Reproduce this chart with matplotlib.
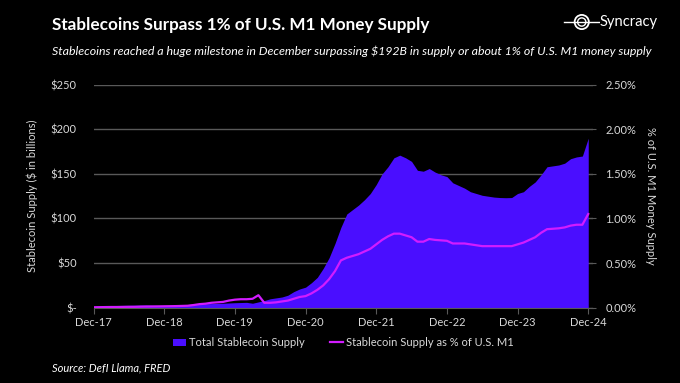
import numpy as np
import matplotlib
matplotlib.use("Agg")
import matplotlib.pyplot as plt
from matplotlib.patches import Patch, Circle
from matplotlib.lines import Line2D

plt.rcParams['font.family'] = ['Lato', 'DejaVu Sans']

# monthly data, Dec-17 .. Dec-24
supply = [1.4, 1.6, 2.2, 2.4, 2.5, 2.6, 2.7, 2.8, 2.9, 3.0, 2.7, 2.5,
          2.4, 2.5, 2.7, 3.2, 3.6, 4.0, 4.3, 4.5, 4.6, 4.8, 5.0, 5.3,
          5.6, 5.8, 6.0, 5.0, 6.5, 8.0, 10.0, 11.0, 12.0, 14.0, 18.0, 21.0,
          23.0, 28.0, 34.0, 44.0, 56.0, 72.0, 90.0, 105.0, 110.0, 115.0, 121.0, 128.0,
          138.0, 150.0, 158.0, 168.0, 171.0, 168.0, 164.0, 154.0, 153.0, 156.0, 152.0, 149.0,
          147.0, 140.0, 137.0, 134.0, 130.0, 128.0, 126.0, 125.0, 124.0, 123.5, 123.3, 123.5,
          128.0, 130.0, 136.0, 141.0, 149.0, 158.0, 159.0, 160.0, 162.0, 167.0, 169.0, 170.0,
          190.0]
pct_m1 = [0.005, 0.006, 0.007, 0.008, 0.008, 0.009, 0.010, 0.010, 0.012, 0.013, 0.014, 0.015,
          0.016, 0.017, 0.018, 0.020, 0.022, 0.030, 0.040, 0.045, 0.055, 0.060, 0.065, 0.080,
          0.090, 0.095, 0.095, 0.100, 0.140, 0.055, 0.055, 0.060, 0.070, 0.080, 0.100, 0.120,
          0.130, 0.160, 0.200, 0.250, 0.320, 0.410, 0.530, 0.560, 0.580, 0.600, 0.630, 0.660,
          0.710, 0.760, 0.800, 0.830, 0.830, 0.810, 0.790, 0.740, 0.740, 0.770, 0.760, 0.755,
          0.750, 0.720, 0.720, 0.720, 0.710, 0.700, 0.690, 0.690, 0.690, 0.690, 0.690, 0.690,
          0.710, 0.730, 0.760, 0.790, 0.840, 0.880, 0.885, 0.890, 0.900, 0.920, 0.930, 0.930,
          1.050]
xlabels = ['Dec-17', 'Dec-18', 'Dec-19', 'Dec-20', 'Dec-21', 'Dec-22', 'Dec-23', 'Dec-24']
months = np.arange(len(supply))

area_col = '#4a0eff'
line_col = '#d21cff'
grid_col = '#595959'
txt_col = '#d9d9d9'

fig = plt.figure(figsize=(6.8, 3.83), dpi=100)
fig.patch.set_facecolor('black')

ax = fig.add_axes([0.1375, 0.1966, 0.7345, 0.5823])
ax.set_facecolor('black')
ax.fill_between(months, supply, 0, color=area_col, lw=0, zorder=2)
ax.set_xlim(0, 84.8)
ax.set_ylim(0, 250)
ax.set_yticks([0, 50, 100, 150, 200, 250])
ax.set_yticklabels(['$-', '$50', '$100', '$150', '$200', '$250'])
ax.set_xticks(np.arange(0, 85, 12))
ax.set_xticklabels(xlabels)
ax.grid(axis='y', color=grid_col, lw=1, zorder=1)
for s in ['top', 'right', 'left']:
    ax.spines[s].set_visible(False)
ax.spines['bottom'].set_color(grid_col)
ax.tick_params(axis='y', length=0, colors=txt_col, labelsize=8, pad=12)
ax.tick_params(axis='x', length=4, color=grid_col, colors=txt_col, labelsize=8, pad=3)
ax.set_ylabel('Stablecoin Supply ($ in billions)', color=txt_col, fontsize=8, labelpad=9)

ax2 = ax.twinx()
ax2.plot(months, pct_m1, color=line_col, lw=1.6, zorder=3)
ax2.set_ylim(0, 2.5)
ax2.set_yticks(np.arange(0, 2.51, 0.5))
ax2.set_yticklabels(['%.2f%%' % v for v in np.arange(0, 2.51, 0.5)])
for s in ['top', 'right', 'left', 'bottom']:
    ax2.spines[s].set_visible(False)
ax2.tick_params(axis='y', length=4, direction='inout', color=grid_col, colors=txt_col, labelsize=8, pad=7)
ax2.set_ylabel('% of U.S. M1 Money Supply', color=txt_col, fontsize=8, rotation=270, labelpad=14)

# titles
fig.text(0.076, 0.935, 'Stablecoins Surpass 1% of U.S. M1 Money Supply', color='white',
         fontsize=12.3, fontweight='bold', va='center', ha='left')
fig.text(0.076, 0.865, 'Stablecoins reached a huge milestone in December surpassing $192B in supply or about 1% of U.S. M1 money supply',
         color='white', fontsize=8.9, style='italic', va='center', ha='left')
fig.text(0.076, 0.04, 'Source: DefI Llama, FRED', color='white', fontsize=8, style='italic',
         va='center', ha='left')

# logo
fig.text(0.882, 0.943, 'Syncracy', color='white', fontsize=10.6, va='center', ha='left')
logo = fig.add_axes([0.828, 0.905, 0.055, 0.075])
logo.set_xlim(-2.5, 2.5)
logo.set_ylim(-1.1, 1.1)
logo.set_aspect('equal')
logo.axis('off')
logo.add_patch(Circle((0, 0), 0.95, fill=False, ec='white', lw=1.3))
logo.add_patch(Circle((0, 0), 0.55, fill=False, ec='white', lw=1.0))
logo.plot([-2.4, 2.4], [0, 0], color='white', lw=1.0)

# legend
handles = [Patch(facecolor=area_col, edgecolor='none'),
           Line2D([0], [0], color=line_col, lw=1.6)]
leg = fig.legend(handles, ['Total Stablecoin Supply', 'Stablecoin Supply as % of U.S. M1'],
                 loc='center', bbox_to_anchor=(0.505, 0.105), ncol=2, frameon=False,
                 fontsize=8, handlelength=1.2, handletextpad=0.3, columnspacing=2.2)
for t in leg.get_texts():
    t.set_color(txt_col)

fig.savefig('out.png', dpi=100, facecolor='black')
